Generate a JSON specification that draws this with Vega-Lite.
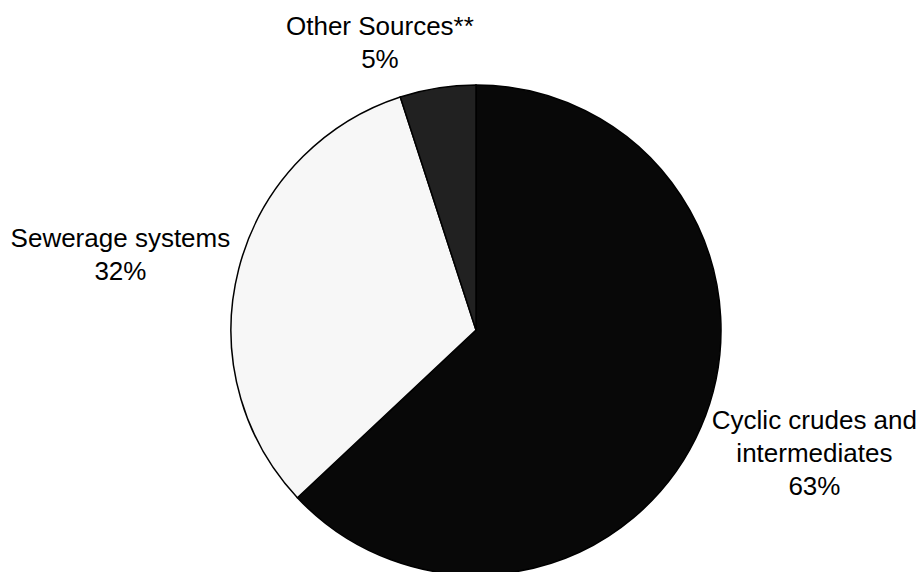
{
  "$schema": "https://vega.github.io/schema/vega-lite/v6.json",
  "width": 896,
  "height": 484,
  "autosize": "none",
  "padding": {"left": 28, "top": 88, "right": 0, "bottom": 0},
  "background": "white",
  "view": {"stroke": null},
  "data": {
    "values": [
      {"source": "Cyclic crudes and intermediates", "label": "Cyclic crudes and\nintermediates", "share": 63},
      {"source": "Sewerage systems", "label": "Sewerage systems", "share": 32},
      {"source": "Other Sources**", "label": "Other Sources**", "share": 5}
    ]
  },
  "transform": [
    {"stack": "share", "groupby": [], "sort": [{"field": "share", "order": "descending"}], "as": ["s0", "s1"]},
    {"calculate": "(datum.s0 + datum.s1) / 2", "as": "mid"},
    {"calculate": "datum.label + '\\n' + datum.share + '%'", "as": "txt"}
  ],
  "layer": [
    {
      "mark": {"type": "arc", "radius": 245, "stroke": "black", "strokeWidth": 1.5},
      "encoding": {
        "theta": {"field": "s0", "type": "quantitative", "stack": null, "scale": {"domain": [0, 100]}},
        "theta2": {"field": "s1"},
        "color": {
          "field": "source",
          "type": "nominal",
          "scale": {
            "domain": ["Cyclic crudes and intermediates", "Sewerage systems", "Other Sources**"],
            "range": ["#080808", "#f7f7f7", "#212121"]
          },
          "legend": null
        }
      }
    },
    {
      "transform": [{"filter": "datum.source === 'Cyclic crudes and intermediates'"}],
      "mark": {"type": "text", "radius": 360, "dx": 8, "dy": -52, "font": "Liberation Sans", "fontSize": 26, "lineHeight": 33, "lineBreak": "\n", "align": "center", "baseline": "middle", "color": "black"},
      "encoding": {
        "theta": {"field": "mid", "type": "quantitative", "stack": null, "scale": {"domain": [0, 100]}},
        "text": {"field": "txt"}
      }
    },
    {
      "transform": [{"filter": "datum.source === 'Sewerage systems'"}],
      "mark": {"type": "text", "radius": 363, "dx": -4, "dy": -1, "font": "Liberation Sans", "fontSize": 26, "lineHeight": 33, "lineBreak": "\n", "align": "center", "baseline": "middle", "color": "black"},
      "encoding": {
        "theta": {"field": "mid", "type": "quantitative", "stack": null, "scale": {"domain": [0, 100]}},
        "text": {"field": "txt"}
      }
    },
    {
      "transform": [{"filter": "datum.source === 'Other Sources**'"}],
      "mark": {"type": "text", "radius": 301, "dx": -49, "dy": -6, "font": "Liberation Sans", "fontSize": 26, "lineHeight": 33, "lineBreak": "\n", "align": "center", "baseline": "middle", "color": "black"},
      "encoding": {
        "theta": {"field": "mid", "type": "quantitative", "stack": null, "scale": {"domain": [0, 100]}},
        "text": {"field": "txt"}
      }
    }
  ]
}
